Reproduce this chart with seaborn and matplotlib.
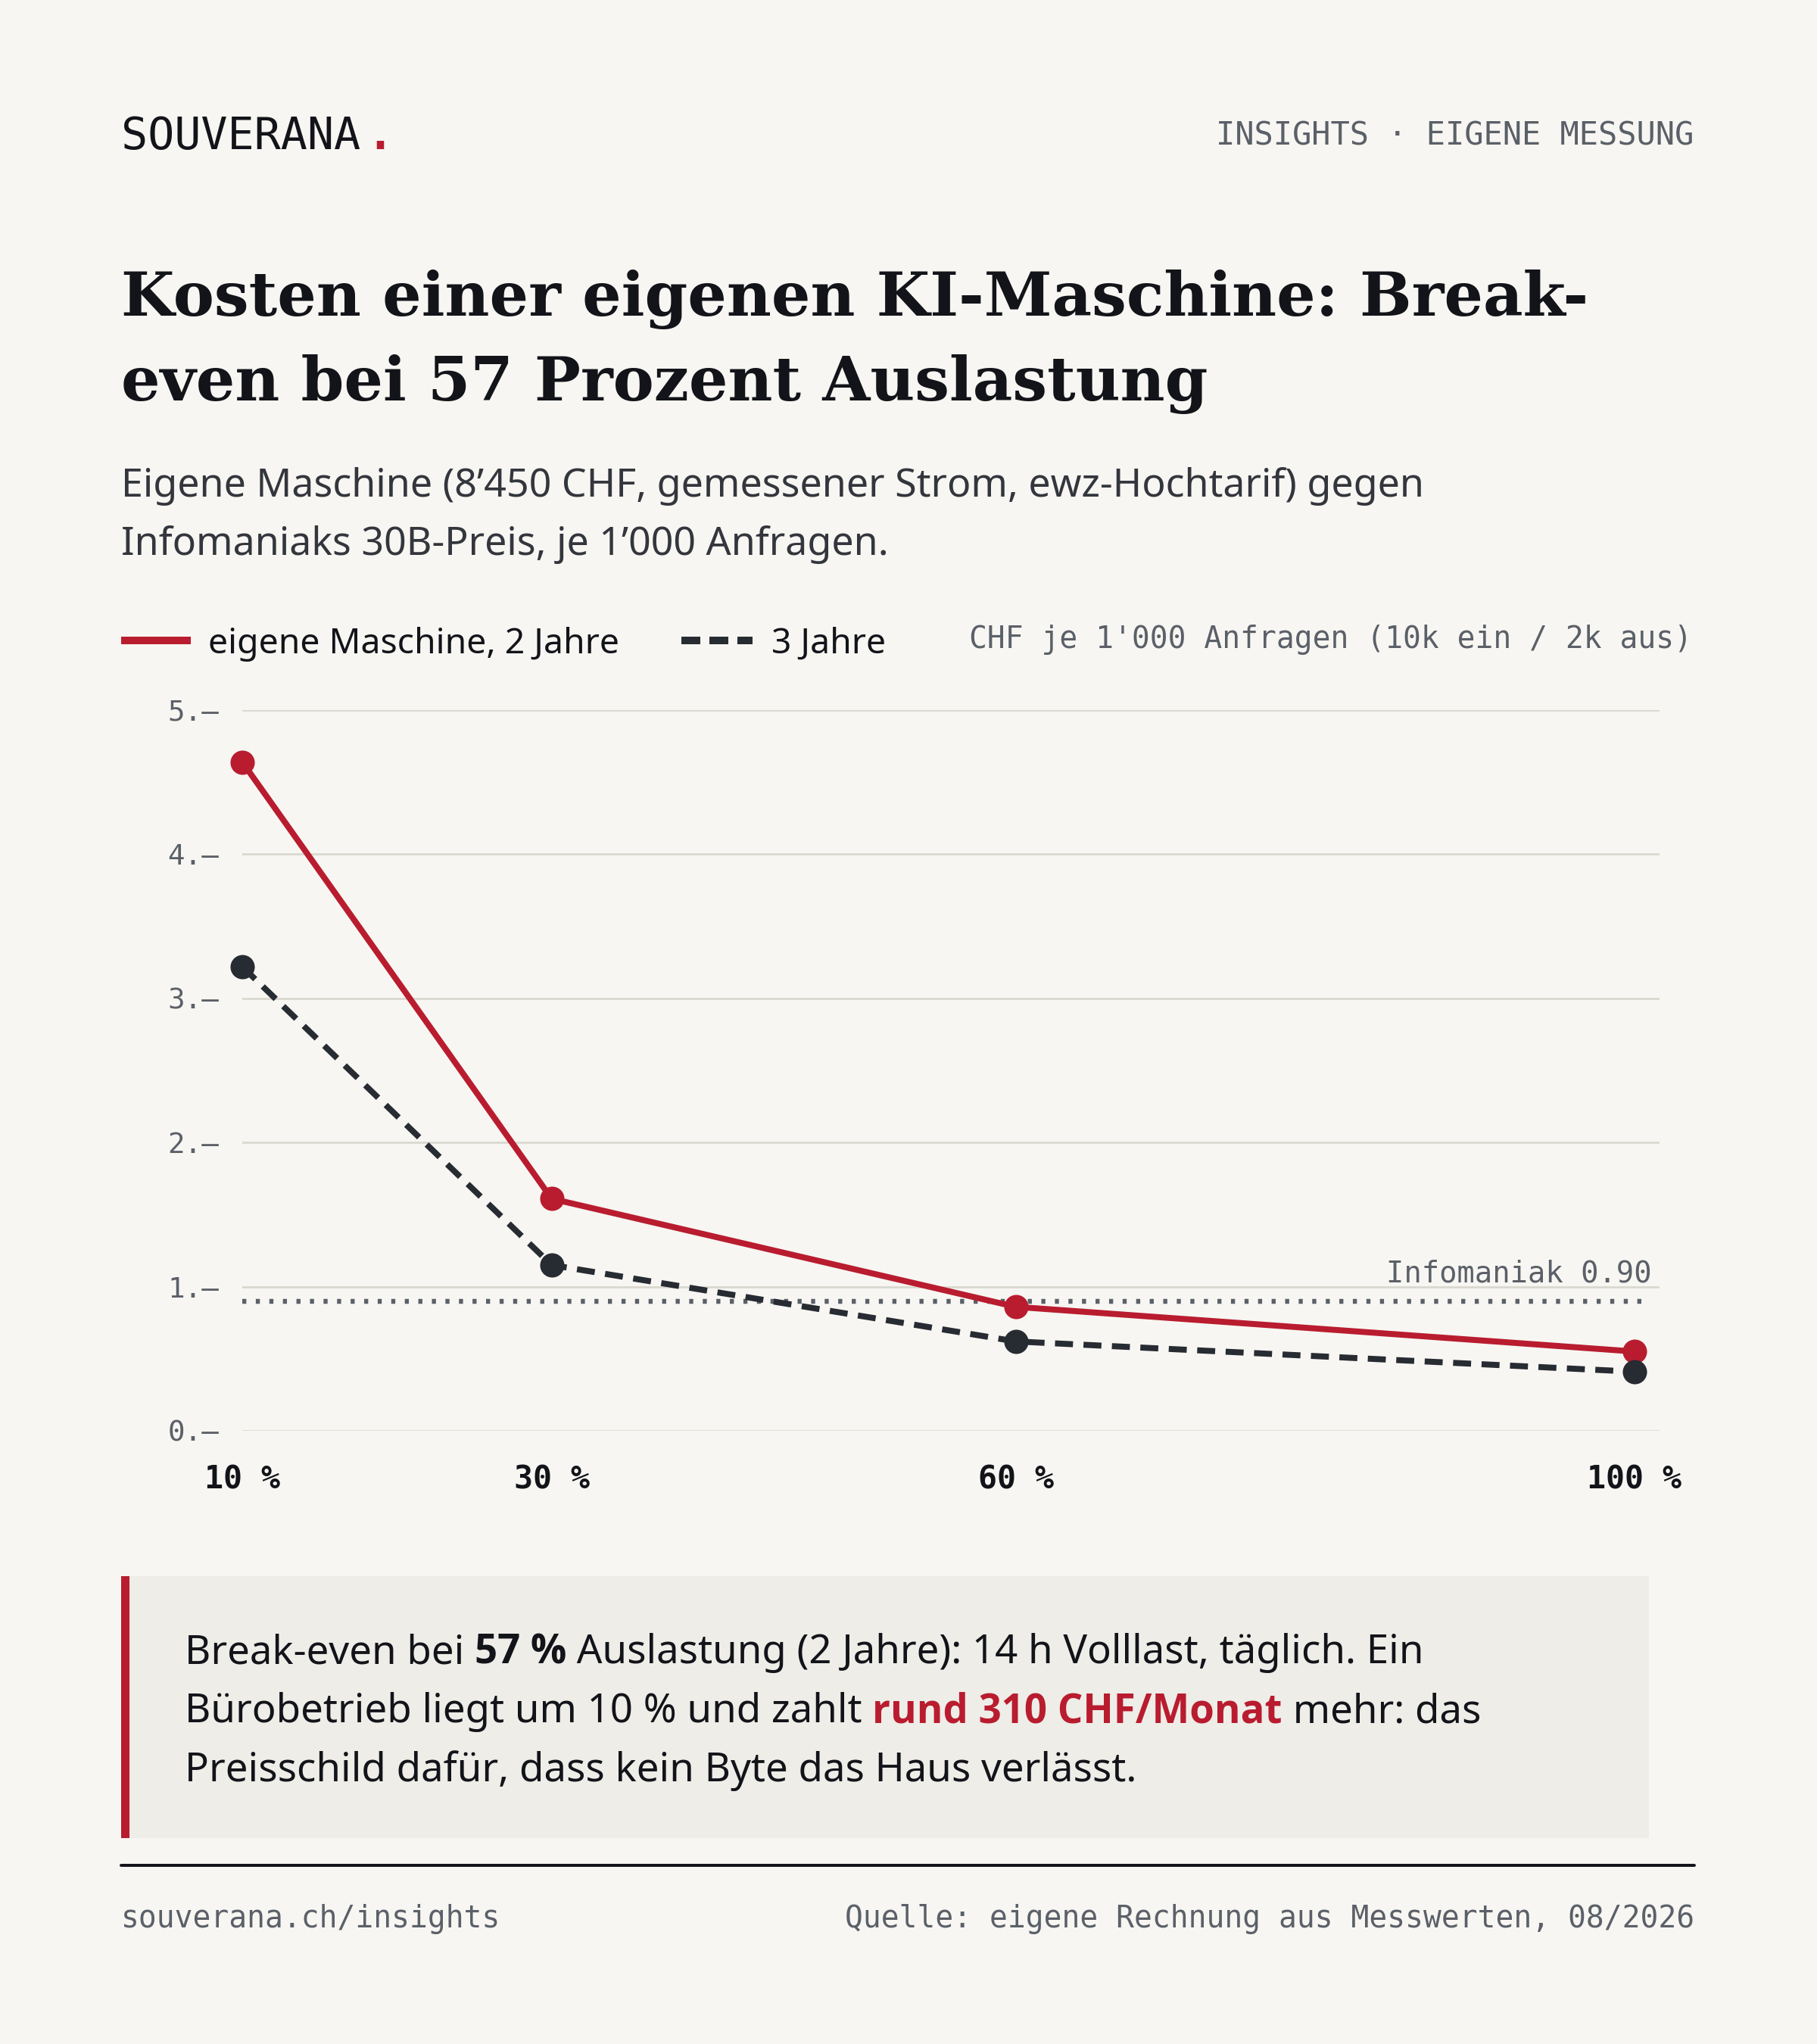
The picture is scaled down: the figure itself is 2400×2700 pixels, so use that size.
import matplotlib
matplotlib.use("Agg")
import matplotlib.pyplot as plt
import seaborn as sns
from matplotlib.lines import Line2D
from matplotlib.patches import Rectangle
from matplotlib.transforms import blended_transform_factory

# ---------------- data ----------------
auslastung = [10, 30, 60, 100]
kosten_2_jahre = [4.64, 1.61, 0.86, 0.55]
kosten_3_jahre = [3.22, 1.15, 0.62, 0.41]
infomaniak_preis = 0.90
y_ticks = [0, 1, 2, 3, 4, 5]
y_ticklabels = ["0.–", "1.–", "2.–", "3.–", "4.–", "5.–"]
x_ticklabels = ["10 %", "30 %", "60 %", "100 %"]
serien = ["eigene Maschine, 2 Jahre", "3 Jahre"]
infomaniak_label = "Infomaniak 0.90"
einheit = "CHF je 1'000 Anfragen (10k ein / 2k aus)"

titel = ["Kosten einer eigenen KI-Maschine: Break-",
         "even bei 57 Prozent Auslastung"]
untertitel = ["Eigene Maschine (8’450 CHF, gemessener Strom, ewz-Hochtarif) gegen",
              "Infomaniaks 30B-Preis, je 1’000 Anfragen."]
marke = "SOUVERANA"
rubrik = "INSIGHTS · EIGENE MESSUNG"
fuss_links = "souverana.ch/insights"
fuss_rechts = "Quelle: eigene Rechnung aus Messwerten, 08/2026"

# ---------------- style ----------------
BG = "#f7f6f2"
RED = "#b91c2f"
DARK = "#272b32"
GRAY = "#5b6068"
GRID = "#d9d8cf"
BOX = "#eeede8"
INK = "#121419"
SUB = "#33363c"

MONO = ["DejaVu Sans Mono"]
SANS = ["Noto Sans", "DejaVu Sans"]
SANS_BOLD = ["Open Sans", "DejaVu Sans"]
SERIF = ["DejaVu Serif"]

sns.set_theme(style="white")
plt.rcParams["font.family"] = SANS

W, H, DPI = 2400, 2700, 300
fig = plt.figure(figsize=(W / DPI, H / DPI), dpi=DPI, facecolor=BG)
renderer = fig.canvas.get_renderer()


def X(px):
    return px / W


def Y(py):
    return 1 - py / H


def width_of(s, size, family, weight="normal"):
    t1 = fig.text(0, 0, "|" + s + "|", fontsize=size, family=family, fontweight=weight)
    t2 = fig.text(0, 0, "||", fontsize=size, family=family, fontweight=weight)
    w = t1.get_window_extent(renderer).width - t2.get_window_extent(renderer).width
    t1.remove()
    t2.remove()
    return w


def fit_size(s, target, family, weight="normal", base=10.0):
    return base * target / width_of(s, base, family, weight)


def txt(px, py, s, size, family, color, ha="left", weight="normal"):
    return fig.text(X(px), Y(py), s, fontsize=size, family=family, color=color,
                    ha=ha, va="baseline", fontweight=weight)


# ---------------- header ----------------
s_marke = 14
txt(160, 197, marke, s_marke, MONO, INK)
w_m = width_of(marke, s_marke, MONO)
txt(160 + w_m + 8, 197, ".", s_marke, MONO, RED, weight="bold")
txt(2237, 191, rubrik, 10.1, MONO, GRAY, ha="right")

# ---------------- title ----------------
s_title = fit_size(titel[0], 1940, SERIF, "bold")
txt(160, 417, titel[0], s_title, SERIF, INK, weight="bold")
txt(160, 529, titel[1], s_title, SERIF, INK, weight="bold")

# ---------------- subtitle ----------------
s_sub = fit_size(untertitel[0], 1719, SANS)
txt(160, 656, untertitel[0], s_sub, SANS, SUB)
txt(160, 733, untertitel[1], s_sub, SANS, SUB)

# ---------------- legend ----------------
fig.add_artist(Line2D([X(160), X(252)], [Y(846), Y(846)], color=RED, lw=2.4,
                      solid_capstyle="butt"))
fig.add_artist(Line2D([X(900), X(994)], [Y(846), Y(846)], color=DARK, lw=2.4,
                      linestyle=(0, (2.5, 1.2)), dash_capstyle="butt"))
s_leg = fit_size(serien[0], 543, SANS)
txt(275, 863, serien[0], s_leg, SANS, INK)
txt(1019, 863, serien[1], s_leg, SANS, INK)
txt(2235, 856, einheit, 9.5, MONO, GRAY, ha="right")

# ---------------- chart ----------------
ax_left, ax_right, ax_top, ax_bottom = 320, 2192, 938, 1890
ax = fig.add_axes([X(ax_left), Y(ax_bottom), (ax_right - ax_left) / W,
                   (ax_bottom - ax_top) / H])
ax.set_facecolor("none")
for sp in ax.spines.values():
    sp.set_visible(False)

ax.axhline(infomaniak_preis, xmin=0, xmax=0.9935, color=GRAY, lw=1.55,
           linestyle=(0, (0.83, 1.94)), dash_capstyle="butt", zorder=2)

sns.lineplot(x=auslastung, y=kosten_2_jahre, color=RED, linewidth=1.9,
             marker="o", markersize=7.7, markeredgewidth=0, ax=ax,
             clip_on=False, zorder=4)
sns.lineplot(x=auslastung, y=kosten_3_jahre, color=DARK, linewidth=1.9,
             linestyle=(0, (3.0, 1.75)), marker="o", markersize=7.7,
             markeredgewidth=0, ax=ax, clip_on=False, zorder=5)
for ln in ax.lines:
    ln.set_clip_on(False)

px_per_unit = (2159 - ax_left) / (auslastung[-1] - auslastung[0])
ax.set_xlim(auslastung[0], auslastung[0] + (ax_right - ax_left) / px_per_unit)
ax.set_ylim(y_ticks[0], y_ticks[-1])
ax.set_yticks(y_ticks)
ax.set_yticklabels(y_ticklabels)
ax.set_xticks(auslastung)
ax.set_xticklabels(x_ticklabels)
ax.grid(axis="y", color=GRID, lw=0.65)
ax.grid(axis="x", visible=False)
ax.set_axisbelow(True)
ax.tick_params(axis="y", length=0, pad=7.4, labelsize=9, labelcolor=GRAY)
ax.tick_params(axis="x", length=0, pad=10.5, labelsize=10, labelcolor=INK)
for lab in ax.get_yticklabels():
    lab.set_family(MONO)
for lab in ax.get_xticklabels():
    lab.set_family(MONO)
    lab.set_fontweight("bold")
ax.set_xlabel("")
ax.set_ylabel("")

trans = blended_transform_factory(ax.transAxes, ax.transData)
ax.annotate(infomaniak_label, xy=(0.9947, infomaniak_preis), xycoords=trans,
            xytext=(0, 6), textcoords="offset points", ha="right", va="baseline",
            fontsize=9.3, family=MONO, color=GRAY)

# ---------------- callout box ----------------
fig.add_artist(Rectangle((X(160), Y(2428)), (2178 - 160) / W, (2428 - 2082) / H,
                         transform=fig.transFigure, facecolor=BOX, edgecolor="none"))
fig.add_artist(Rectangle((X(160), Y(2428)), 11 / W, (2428 - 2082) / H,
                         transform=fig.transFigure, facecolor=RED, edgecolor="none"))

box_lines = [
    [("Break-even bei ", INK, "normal"), ("57 %", INK, "bold"),
     (" Auslastung (2 Jahre): 14 h Volllast, täglich. Ein", INK, "normal")],
    [("Bürobetrieb liegt um 10 % und zahlt ", INK, "normal"),
     ("rund 310 CHF/Monat", RED, "bold"), (" mehr: das", INK, "normal")],
    [("Preisschild dafür, dass kein Byte das Haus verlässt.", INK, "normal")],
]


def fam(wt):
    return SANS_BOLD if wt == "bold" else SANS


base = 10.0
w1 = sum(width_of(s, base, fam(wt), wt) for s, c, wt in box_lines[0])
s_box = base * 1637 / w1
for parts, py in zip(box_lines, [2197, 2275, 2353]):
    x = 244
    for s, c, wt in parts:
        txt(x, py, s, s_box, fam(wt), c, weight=wt)
        x += width_of(s, s_box, fam(wt), wt)

# ---------------- footer ----------------
fig.add_artist(Line2D([X(160), X(2238)], [Y(2464), Y(2464)], color=INK, lw=0.95))
txt(160, 2546, fuss_links, 9.5, MONO, GRAY)
txt(2238, 2546, fuss_rechts, 9.5, MONO, GRAY, ha="right")

fig.savefig("out.png", dpi=DPI, facecolor=BG)
